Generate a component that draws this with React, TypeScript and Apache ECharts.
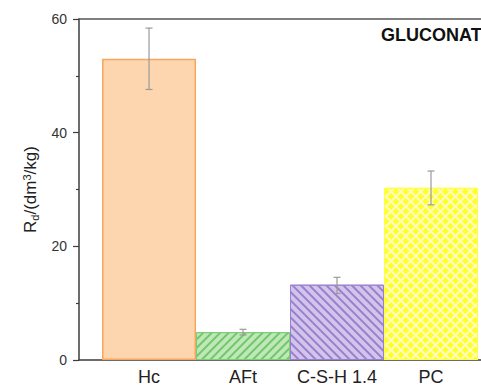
import React, { useEffect, useRef } from "react";
import * as echarts from "echarts";

const categories = ["Hc", "AFt", "C-S-H 1.4", "PC"];
const values = [53.0, 4.9, 13.25, 30.3];
const errLow = [47.6, 4.4, 11.7, 27.3];
const errHigh = [58.4, 5.4, 14.55, 33.25];
const yTicks = [0, 20, 40, 60];
const titleText = "GLUCONATE";

const FONT = "'Liberation Sans', Arial, Helvetica, sans-serif";

const barStyles = [
  { color: "#fdd6b0", borderColor: "#f8a65c", borderWidth: 1.5 },
  {
    color: "#bfe8b8",
    borderColor: "#7dcc76",
    borderWidth: 1,
    decal: { symbol: "rect", color: "#74c66c", dashArrayX: [1, 0], dashArrayY: [1.4, 3.6], rotation: -Math.PI / 4, symbolSize: 1 },
  },
  {
    color: "#d2c5ec",
    borderColor: "#9a80cf",
    borderWidth: 1,
    decal: { symbol: "rect", color: "#9a7fcd", dashArrayX: [1, 0], dashArrayY: [1.4, 3.6], rotation: Math.PI / 4, symbolSize: 1 },
  },
  {
    color: "#fffcc0",
    borderColor: "#ffff40",
    borderWidth: 1,
    decal: { symbol: "rect", color: "#ffff2e", dashArrayX: [[4.5, 1.5]], dashArrayY: [4.5, 1.5], rotation: Math.PI / 4, symbolSize: 1 },
  },
];

export default function App() {
  const ref = useRef<HTMLDivElement>(null);
  useEffect(() => {
    if (!ref.current) return;
    const chart = echarts.init(ref.current, undefined, { renderer: "svg" });
    const xMin = 0.255;
    const xMax = 5;
    const barData = values.map((v, i) => ({ value: [i + 1, v], itemStyle: barStyles[i] }));
    const errData = values.map((_, i) => [i + 1, errLow[i], errHigh[i]]);
    chart.setOption({
      animation: false,
      textStyle: { fontFamily: FONT },
      title: {
        text: titleText,
        left: 376,
        top: 21,
        textStyle: { fontSize: 18, fontWeight: "bold", color: "#111", fontFamily: FONT },
      },
      grid: { left: 79, top: 19, width: 446, height: 341, outerBoundsMode: "none", containLabel: false },
      xAxis: [
        {
          type: "value",
          min: xMin,
          max: xMax,
          splitLine: { show: false },
          axisTick: { show: false },
          axisLine: { show: true, lineStyle: { color: "#3c3c3c", width: 1.5 } },
          axisLabel: {
            customValues: [1, 2, 3, 4],
            formatter: (v: number) => categories[Math.round(v) - 1] ?? "",
            fontSize: 18,
            color: "#222",
            margin: 8,
            fontFamily: FONT,
          },
        },
        {
          type: "value",
          position: "top",
          min: xMin,
          max: xMax,
          splitLine: { show: false },
          axisTick: { show: false },
          axisLabel: { show: false },
          axisLine: { show: true, onZero: false, lineStyle: { color: "#555", width: 1.5 } },
        },
      ],
      yAxis: {
        type: "value",
        min: yTicks[0],
        max: yTicks[yTicks.length - 1],
        interval: 20,
        splitLine: { show: false },
        axisLine: { show: true, lineStyle: { color: "#3c3c3c", width: 1.5 } },
        axisTick: { show: true, length: 6, lineStyle: { color: "#3c3c3c", width: 1.2 } },
        minorTick: { show: true, splitNumber: 2, length: 3, lineStyle: { color: "#3c3c3c", width: 1.2 } },
        axisLabel: { fontSize: 14, color: "#333", margin: 12, fontFamily: FONT },
        name: "{a|R}{sub|d}{a|/(dm}{sup|3}{a|/kg)}",
        nameLocation: "middle",
        nameGap: 30,
        nameRotate: 90,
        nameTextStyle: {
          color: "#222",
          fontFamily: FONT,
          rich: {
            a: { fontSize: 17, color: "#222", fontFamily: FONT },
            sub: { fontSize: 11, color: "#222", padding: [9, 0, 0, 0], fontFamily: FONT },
            sup: { fontSize: 11, color: "#222", padding: [0, 0, 8, 0], fontFamily: FONT },
          },
        },
      },
      series: [
        {
          type: "bar",
          data: barData,
          barWidth: 94,
          xAxisIndex: 0,
        },
        {
          type: "custom",
          xAxisIndex: 0,
          data: errData,
          z: 10,
          renderItem: (params: any, api: any) => {
            const x = api.value(0);
            const top = api.coord([x, api.value(2)]);
            const bot = api.coord([x, api.value(1)]);
            const cap = 3.5;
            const style = { stroke: "#9a9a9a", lineWidth: 1.2 };
            return {
              type: "group",
              children: [
                { type: "line", shape: { x1: top[0], y1: top[1], x2: bot[0], y2: bot[1] }, style },
                { type: "line", shape: { x1: top[0] - cap, y1: top[1], x2: top[0] + cap, y2: top[1] }, style },
                { type: "line", shape: { x1: bot[0] - cap, y1: bot[1], x2: bot[0] + cap, y2: bot[1] }, style },
              ],
            };
          },
        },
      ],
    });
    return () => chart.dispose();
  }, []);
  return (
    <div
      ref={ref}
      style={{ position: "fixed", left: 0, top: 0, width: 481, height: 387, background: "#fff" }}
    />
  );
}
